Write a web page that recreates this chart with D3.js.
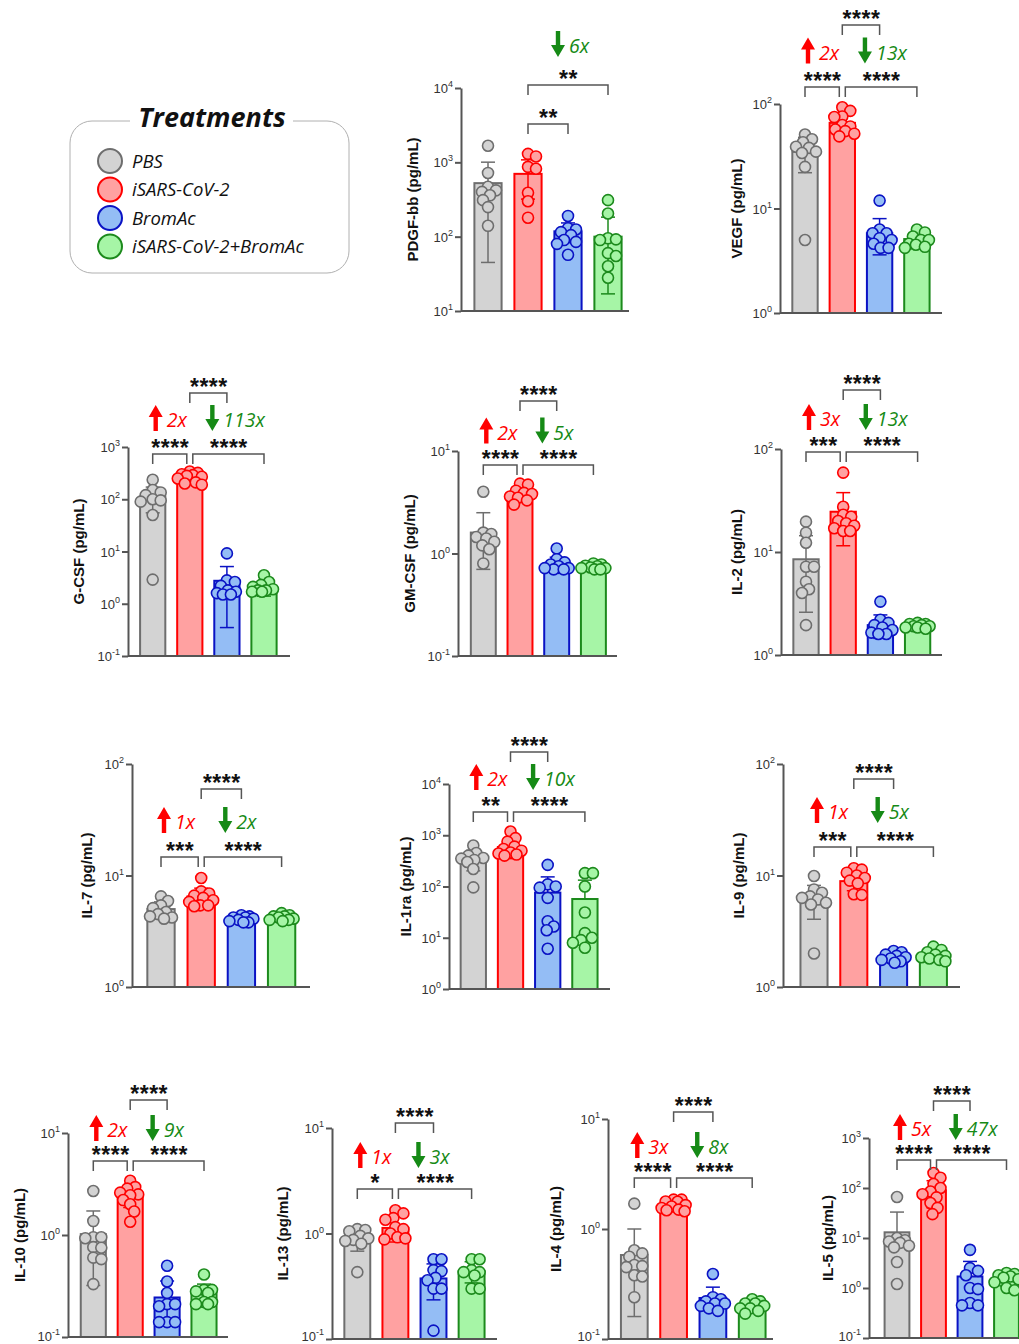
<!DOCTYPE html>
<html>
<head>
<meta charset="utf-8">
<script src="https://cdn.jsdelivr.net/npm/d3@7"></script>
<style>
body { margin: 0; background: #fff; }
svg { display: block; }
</style>
</head>
<body>
<script>
// treatment groups and their colours
const groups = ['PBS', 'iSARS-CoV-2', 'BromAc', 'iSARS-CoV-2+BromAc'];
const fills = ['#d3d3d3', '#ffa1a1', '#94bdf5', '#a6f5a6'];
const strokes = ['#6e6e6e', '#ff0000', '#0a12c4', '#1c8a1c'];

// cytokine panels, in reading order
const cytokines = ['PDGF-bb', 'VEGF', 'G-CSF', 'GM-CSF', 'IL-2', 'IL-7', 'IL-1ra', 'IL-9', 'IL-10', 'IL-13', 'IL-4', 'IL-5'];
const decade_range = [[1, 4], [0, 2], [-1, 3], [-1, 1], [0, 2], [0, 2], [0, 4], [0, 2], [-1, 1], [-1, 1], [-1, 1], [-1, 3]];

// individual animals (pg/mL), one list per group
const pdgf_points = [[1670, 720, 470, 420, 400, 360, 310, 250, 140], [1300, 1200, 870, 820, 390, 300, 180], [190, 130, 125, 115, 105, 90, 85, 80, 57], [310, 205, 95, 92, 90, 60, 55, 40, 28]];
const vegf_points = [[51, 46, 43, 39, 38, 35, 34, 25, 5], [93, 86, 76, 75, 63, 61, 57, 55, 52, 49], [11.9, 6.3, 5.8, 5.8, 5.2, 5.0, 4.6, 4.2, 4.2], [6.3, 5.9, 5.4, 5.0, 5.0, 4.6, 4.5, 4.3, 4.2]];
const gcsf_points = [[236, 150, 135, 120, 100, 95, 90, 50, 2.9], [340, 320, 300, 290, 280, 270, 250, 210, 200, 190], [9.2, 2.8, 2.6, 2.2, 1.8, 1.7, 1.6, 1.5, 1.5], [3.5, 2.6, 2.3, 2.1, 1.9, 1.8, 1.8, 1.7, 1.7]];
const gmcsf_points = [[4.0, 1.6, 1.55, 1.45, 1.4, 1.3, 1.2, 1.1, 0.8], [4.8, 4.7, 4.1, 3.9, 3.8, 3.6, 3.5, 3.3, 3.0], [1.12, 0.88, 0.82, 0.78, 0.75, 0.72, 0.7, 0.7, 0.72], [0.8, 0.78, 0.76, 0.75, 0.73, 0.72, 0.7, 0.7, 0.72]];
const il2_points = [[19.7, 15.4, 12.3, 7.2, 7.2, 5.15, 4.35, 4.0, 1.95], [59, 27.5, 23, 22, 20, 19, 18, 17, 16, 16], [3.3, 2.2, 2.05, 1.95, 1.85, 1.75, 1.65, 1.6, 1.6], [2.05, 2.0, 2.0, 1.95, 1.9, 1.9, 1.85, 1.85, 1.8]];
const il7_points = [[6.5, 5.9, 5.4, 5.1, 4.7, 4.5, 4.3, 4.2, 4.1], [9.5, 7.2, 6.9, 6.6, 6.3, 6.0, 5.8, 5.4, 5.3, 5.4], [4.4, 4.3, 4.2, 4.2, 4.1, 4.0, 3.9, 3.8, 3.8], [4.6, 4.4, 4.3, 4.3, 4.2, 4.1, 4.0, 4.0, 3.9]];
const il1ra_points = [[630, 450, 400, 360, 350, 330, 300, 220, 96], [1180, 880, 750, 600, 540, 500, 460, 440, 420, 400], [264, 110, 100, 95, 60, 21, 16.6, 14, 6.1], [182, 182, 100, 31, 12.3, 10, 9, 8, 6.4]];
const il9_points = [[9.9, 7.5, 7.0, 6.5, 6.3, 6.1, 5.7, 5.5, 2.0], [11.6, 11.3, 10.6, 10, 9.5, 9.0, 8.5, 6.8, 6.7], [2.1, 2.05, 1.95, 1.9, 1.85, 1.8, 1.75, 1.7, 1.65], [2.3, 2.15, 2.05, 1.95, 1.9, 1.85, 1.8, 1.75, 1.7]];
const il10_points = [[2.7, 1.37, 0.95, 0.95, 0.93, 0.76, 0.75, 0.6, 0.58, 0.33], [3.4, 2.95, 2.85, 2.6, 2.5, 2.45, 2.2, 2.0, 1.7, 1.35], [0.5, 0.35, 0.27, 0.21, 0.21, 0.2, 0.14, 0.14, 0.14], [0.41, 0.29, 0.29, 0.28, 0.27, 0.22, 0.22, 0.21, 0.21]];
const il13_points = [[1.1, 1.08, 1.05, 0.95, 0.9, 0.87, 0.85, 0.8, 0.43], [1.66, 1.55, 1.4, 1.35, 1.15, 1.1, 1.0, 0.92, 0.9, 0.88], [0.57, 0.57, 0.45, 0.44, 0.38, 0.36, 0.3, 0.3, 0.12], [0.57, 0.57, 0.45, 0.43, 0.43, 0.4, 0.3, 0.3]];
const il4_points = [[1.7, 0.64, 0.6, 0.56, 0.47, 0.46, 0.45, 0.38, 0.37, 0.24], [1.85, 1.85, 1.78, 1.77, 1.65, 1.6, 1.55, 1.5, 1.48, 1.45], [0.39, 0.24, 0.23, 0.22, 0.21, 0.21, 0.2, 0.19, 0.18], [0.23, 0.22, 0.21, 0.21, 0.2, 0.19, 0.19, 0.18, 0.17]];
const il5_points = [[66, 10, 9, 8.5, 8, 7, 6.5, 3.3, 1.2], [200, 160, 120, 100, 85, 75, 65, 50, 40, 30], [5.8, 2.5, 2.2, 1.8, 1.0, 0.95, 0.5, 0.45, 0.45], [2.0, 1.9, 1.8, 1.7, 1.6, 1.5, 1.3, 1.0, 0.9]];

const all_points = [pdgf_points, vegf_points, gcsf_points, gmcsf_points, il2_points, il7_points, il1ra_points, il9_points, il10_points, il13_points, il4_points, il5_points];

// bar heights (mean) and SD per panel
const means = [[525, 700, 118, 100], [35, 66, 5.8, 5.1], [113, 265, 2.75, 2.0], [1.6, 3.86, 0.78, 0.745], [8.5, 24.6, 1.95, 1.95], [5.0, 6.5, 4.1, 4.2],
    [356, 590, 76, 57], [6.1, 8.9, 1.86, 1.88], [1.02, 2.46, 0.244, 0.28], [0.88, 1.13, 0.375, 0.44], [0.58, 1.61, 0.236, 0.198], [13, 90, 1.7, 1.5]];
const sds = [[480, 380, 35, 83], [13, 13, 2.2, 0.7], [58, 50, 2.4, 0.6], [0.9, 0.6, 0.14, 0.04], [5.9, 13.1, 0.5, 0.1], [0.8, 1.2, 0.2, 0.2],
    [154, 240, 78, 76], [2.05, 1.6, 0.15, 0.18], [0.7, 0.6, 0.11, 0.05], [0.2, 0.3, 0.14, 0.1], [0.42, 0.15, 0.06, 0.02], [20, 50, 1.7, 0.4]];

// fold-change labels and significance stars
const fold_up = [null, '2x', '2x', '2x', '3x', '1x', '2x', '1x', '2x', '1x', '3x', '5x'];
const fold_down = ['6x', '13x', '113x', '5x', '13x', '2x', '10x', '5x', '9x', '3x', '8x', '47x'];
const stars_pbs_vs_sars = [null, '****', '****', '****', '***', '***', '**', '***', '****', '*', '****', '****'];
const stars_sars_vs_combo = ['**', '****', '****', '****', '****', '****', '****', '****', '****', '****', '****', '****'];
const stars_sars_vs_bromac = ['**', '****', '****', '****', '****', '****', '****', '****', '****', '****', '****', '****'];

// page layout of every panel (pixels)
const panel_layout = [
    {ax: 461, y0: 88, y1: 311, xe: 629, b0: 488, step: 40, lab: -48, top: 85, arr: 44, low: 124},
    {ax: 780, y0: 104, y1: 313, xe: 942, b0: 805, step: 37.3, lab: -43, top: 25, arr: 50.5, low: 87},
    {ax: 128, y0: 447, y1: 656, xe: 290, b0: 152.7, step: 37.1, lab: -49, top: 393, arr: 418, low: 454},
    {ax: 458, y0: 451, y1: 656, xe: 617, b0: 483.3, step: 36.7, lab: -48, top: 401, arr: 430.5, low: 465},
    {ax: 781, y0: 449, y1: 655, xe: 942, b0: 806, step: 37.2, lab: -44, top: 390, arr: 417, low: 452},
    {ax: 132, y0: 764, y1: 987, xe: 310, b0: 161, step: 40.2, lab: -45, top: 789, arr: 820, low: 857},
    {ax: 449, y0: 784, y1: 989, xe: 610, b0: 473.3, step: 37.2, lab: -43, top: 752, arr: 777, low: 812},
    {ax: 783, y0: 764, y1: 987, xe: 960, b0: 814, step: 39.8, lab: -44, top: 779, arr: 810, low: 847},
    {ax: 68, y0: 1133, y1: 1337, xe: 228, b0: 93.3, step: 36.9, lab: -48, top: 1100, arr: 1128, low: 1161},
    {ax: 332, y0: 1128, y1: 1339, xe: 497, b0: 357.3, step: 38.1, lab: -49, top: 1123, arr: 1155, low: 1189},
    {ax: 608, y0: 1119, y1: 1339, xe: 773, b0: 634.3, step: 39.3, lab: -52, top: 1112, arr: 1145, low: 1178},
    {ax: 869, y0: 1138, y1: 1338, xe: 1018, b0: 897, step: 36.5, lab: -41, top: 1101, arr: 1127, low: 1160}
];

const axis_color = '#555555';
const dot_r = 5.5;
const page_h = 1344;

let svg = d3.select('body').append('svg')
    .attr('width', 1019)
    .attr('height', page_h)
    .style('font-family', '"Liberation Sans", Arial, sans-serif');

// simple beeswarm so dots with close values sit side by side
function swarm_offsets(values, y) {
    let placed = [];
    let offs = new Array(values.length);
    let order = values.map(function (v, i) { return {i: i, py: y(v)}; }).sort(function (a, b) { return a.py - b.py; });
    let min_d = dot_r * 2 * 0.72;
    order.forEach(function (p) {
        let best = 0, best_score = -Infinity;
        for (let k = 0; k <= 24; k++) {
            let off = (k % 2 === 1 ? 1 : -1) * Math.ceil(k / 2);
            let d = d3.min(placed, function (q) { return Math.hypot(q.x - off, q.y - p.py); });
            if (d === undefined || d >= min_d) { best = off; best_score = Infinity; break; }
            if (d > best_score) { best_score = d; best = off; }
        }
        placed.push({x: best, y: p.py});
        offs[p.i] = best;
    });
    return offs;
}

function bracket(g, xa, xb, yl, label) {
    g.append('path')
        .attr('d', 'M' + xa + ',' + (yl + 10) + 'V' + yl + 'H' + xb + 'V' + (yl + 10))
        .attr('fill', 'none')
        .attr('stroke', axis_color)
        .attr('stroke-width', 1.5);
    g.append('text')
        .attr('x', (xa + xb) / 2 + 0.5)
        .attr('y', yl - 11 + 13)
        .attr('text-anchor', 'middle')
        .style('font-size', '23px')
        .style('font-weight', 'bold')
        .style('letter-spacing', '0.5px')
        .attr('fill', '#111')
        .text(label);
}

function fold_arrow(g, cx, cy, up, color, label) {
    let dir = up ? -1 : 1;
    let tip = cy + dir * 13, base = tip - dir * 12, tail = cy - dir * 13;
    g.append('path')
        .attr('d', 'M' + cx + ',' + tip + 'L' + (cx + 7) + ',' + base + 'L' + (cx + 2.2) + ',' + base + 'L' + (cx + 2.2) + ',' + tail +
            'L' + (cx - 2.2) + ',' + tail + 'L' + (cx - 2.2) + ',' + base + 'L' + (cx - 7) + ',' + base + 'Z')
        .attr('fill', color);
    g.append('text')
        .attr('x', cx + 11)
        .attr('y', cy + 2 + 7)
        .style('font-family', '"Open Sans", sans-serif')
        .style('font-style', 'italic')
        .style('font-size', '19.5px')
        .attr('fill', color)
        .text(label);
}

cytokines.forEach(function (name, p) {
    let lay = panel_layout[p];
    let ex = decade_range[p];
    let y = d3.scaleLog().domain([Math.pow(10, ex[0]), Math.pow(10, ex[1])]).range([lay.y1, lay.y0]);
    let x = d3.scalePoint().domain(groups).range([lay.b0, lay.b0 + 3 * lay.step]);
    let bw = lay.step * 0.68;
    let g = svg.append('g');

    groups.forEach(function (grp, i) {
        let m = means[p][i], s = sds[p][i];
        let cx = x(grp);
        g.append('rect')
            .attr('x', cx - bw / 2)
            .attr('y', y(m))
            .attr('width', bw)
            .attr('height', lay.y1 - y(m))
            .attr('fill', fills[i])
            .attr('stroke', strokes[i])
            .attr('stroke-width', 2);

        // error bar (SD); lower half only when it stays positive
        let hi = y(m + s);
        let lo = (m - s) > 0 ? y(Math.max(m - s, y.domain()[0])) : y(m);
        g.append('line')
            .attr('x1', cx).attr('x2', cx)
            .attr('y1', hi).attr('y2', lo)
            .attr('stroke', strokes[i]).attr('stroke-width', 1.5);
        g.append('line')
            .attr('x1', cx - 7).attr('x2', cx + 7)
            .attr('y1', hi).attr('y2', hi)
            .attr('stroke', strokes[i]).attr('stroke-width', 1.5);
        if ((m - s) > 0) {
            g.append('line')
                .attr('x1', cx - 7).attr('x2', cx + 7)
                .attr('y1', lo).attr('y2', lo)
                .attr('stroke', strokes[i]).attr('stroke-width', 1.5);
        }

        let vals = all_points[p][i];
        let offs = swarm_offsets(vals, y);
        g.selectAll(null)
            .data(vals)
            .enter()
            .append('circle')
            .attr('cx', function (d, k) { return cx + offs[k]; })
            .attr('cy', function (d) { return y(d); })
            .attr('r', dot_r)
            .attr('fill', fills[i])
            .attr('stroke', strokes[i])
            .attr('stroke-width', 1.6);
    });

    // y axis with 10^n labels
    let ticks = d3.range(ex[0], ex[1] + 1);
    let ax = g.append('g')
        .attr('transform', 'translate(' + lay.ax + ',0)')
        .call(d3.axisLeft(y).tickValues(ticks.map(function (e) { return Math.pow(10, e); })).tickSize(6).tickSizeOuter(0).tickFormat(''));
    ax.select('.domain').attr('stroke', axis_color).attr('stroke-width', 2);
    ax.selectAll('.tick line').attr('stroke', axis_color).attr('stroke-width', 2);
    ax.selectAll('.tick text').remove();
    ax.selectAll('.tick').each(function (d) {
        // keep the lowest labels inside the page
        let dy = Math.min(4.5, page_h - 4 - y(d));
        let t = d3.select(this).append('text')
            .attr('x', -8)
            .attr('y', dy)
            .attr('text-anchor', 'end')
            .attr('fill', '#333')
            .style('font-size', '13px')
            .style('font-family', '"Liberation Sans", Arial, sans-serif');
        t.append('tspan').text('10');
        t.append('tspan').attr('dy', -6).style('font-size', '9px').text(Math.round(Math.log10(d)));
    });

    // x axis baseline
    g.append('line')
        .attr('x1', lay.ax).attr('x2', lay.xe)
        .attr('y1', lay.y1).attr('y2', lay.y1)
        .attr('stroke', axis_color).attr('stroke-width', 2);

    g.append('text')
        .attr('transform', 'translate(' + (lay.ax + lay.lab + 5) + ',' + ((lay.y0 + lay.y1) / 2) + ') rotate(-90)')
        .attr('text-anchor', 'middle')
        .style('font-size', '15px')
        .style('font-weight', 'bold')
        .attr('fill', '#111')
        .text(name + ' (pg/mL)');

    // significance brackets and fold-change arrows
    let xg = x(groups[0]), xr = x(groups[1]), xb = x(groups[2]), xc = x(groups[3]);
    if (p === 0) {
        bracket(g, xr, xc, lay.top, stars_sars_vs_combo[p]);
        bracket(g, xr, xb, lay.low, stars_sars_vs_bromac[p]);
        fold_arrow(g, (xr + xb) / 2 + 10, lay.arr, false, '#168a16', fold_down[p]);
    } else {
        bracket(g, xg, xr - 3, lay.low, stars_pbs_vs_sars[p]);
        bracket(g, xr + 3, xc, lay.low, stars_sars_vs_combo[p]);
        bracket(g, xr, xb, lay.top, stars_sars_vs_bromac[p]);
        fold_arrow(g, xg + 3, lay.arr, true, '#ff0000', fold_up[p]);
        fold_arrow(g, (xr + xb) / 2 + 4, lay.arr, false, '#168a16', fold_down[p]);
    }
});

// legend
let legend = svg.append('g');
legend.append('rect')
    .attr('x', 70).attr('y', 121)
    .attr('width', 279).attr('height', 152)
    .attr('rx', 22)
    .attr('fill', 'none')
    .attr('stroke', '#b0b0b0')
    .attr('stroke-width', 1);
legend.append('rect')
    .attr('x', 130).attr('y', 112)
    .attr('width', 163).attr('height', 18)
    .attr('fill', '#fff');
legend.append('text')
    .attr('x', 212).attr('y', 127)
    .attr('text-anchor', 'middle')
    .style('font-family', '"Open Sans", sans-serif')
    .style('font-style', 'italic')
    .style('font-weight', 'bold')
    .style('font-size', '27px')
    .attr('fill', '#111')
    .text('Treatments');

let items = legend.selectAll('g.item')
    .data(groups)
    .enter()
    .append('g')
    .attr('class', 'item')
    .attr('transform', function (d, i) { return 'translate(110,' + (161 + i * 28.5) + ')'; });
items.append('circle')
    .attr('r', 12)
    .attr('fill', function (d, i) { return fills[i]; })
    .attr('stroke', function (d, i) { return strokes[i]; })
    .attr('stroke-width', 2);
items.append('text')
    .attr('x', 22)
    .attr('y', 6.5)
    .style('font-family', '"Open Sans", sans-serif')
    .style('font-style', 'italic')
    .style('font-size', '18.5px')
    .attr('fill', '#111')
    .text(function (d) { return d; });
</script>
</body>
</html>
